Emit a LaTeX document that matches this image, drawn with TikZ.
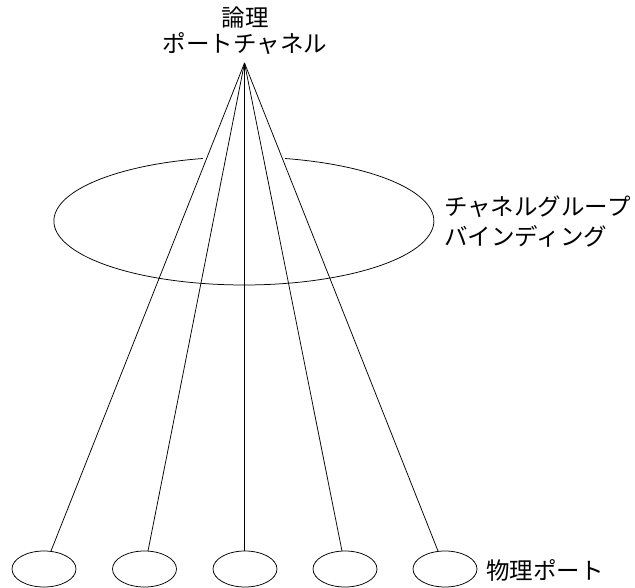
\documentclass[tikz,border=0pt]{standalone}
\usepackage{fontspec}
\setmainfont{Noto Sans CJK JP}
\usetikzlibrary{shapes.geometric}
\tikzset{
  portoval/.style={draw,ellipse,line width=0.75pt,minimum width=64pt,minimum height=36pt,inner sep=0pt},
  portlabel/.style={font=\fontsize{23.5pt}{26pt}\selectfont,align=center,inner sep=0pt},
  bondline/.style={line width=0.75pt}
}
\begin{document}
\begin{tikzpicture}[x=1pt,y=-1pt]
    \useasboundingbox (0,0) rectangle (635,588);
    % group ring, open at the top
    \draw[bondline] (285,158.5) arc[start angle=77.5,end angle=-257.5,x radius=190pt,y radius=64pt];
    \node[portlabel] (logical) at (245,31) {論理\\ポートチャネル};
    \coordinate (apex) at (244.5,63);
    \node[portoval] (port1) at (44,569) {};
    \node[portoval] (port2) at (144.5,569) {};
    \node[portoval] (port3) at (245,569) {};
    \node[portoval] (port4) at (345,569) {};
    \node[portoval] (port5) at (445,569) {};
    \coordinate (end1) at (51,551);
    \coordinate (end2) at (148,551);
    \coordinate (end3) at (244.5,551);
    \coordinate (end4) at (342,551);
    \coordinate (end5) at (438,551);
    \foreach \n in {1,...,5}
      \draw[bondline] (apex) -- (end\n);
    \node[portlabel,align=left,anchor=west,font=\fontsize{23.5pt}{30pt}\selectfont] (bundle) at (444,222) {チャネルグループ\\バインディング};
    \node[portlabel,anchor=west] (physical) at (486,570) {物理ポート};
  \end{tikzpicture}
\end{document}
